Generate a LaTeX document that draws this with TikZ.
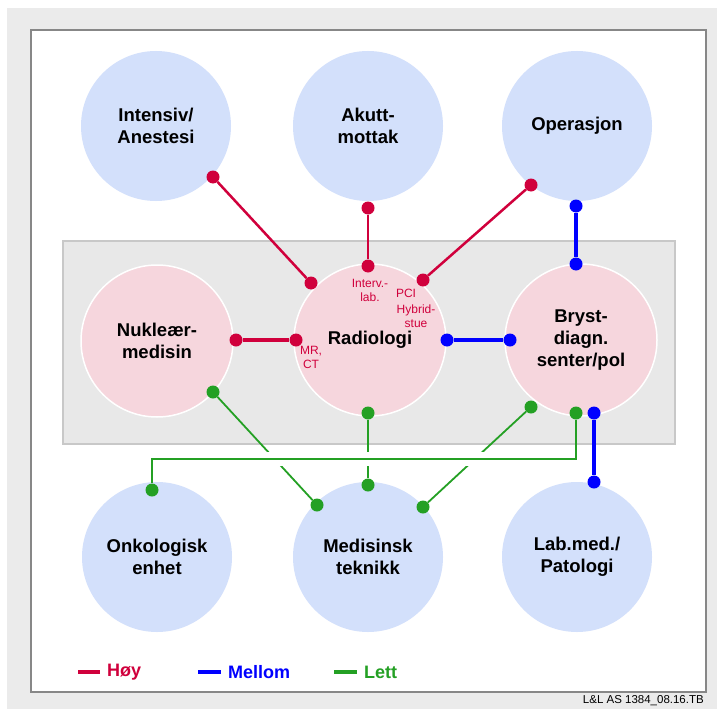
\documentclass[tikz,border=0pt]{standalone}
\usepackage{fontspec}
\setmainfont{Liberation Sans}
\definecolor{hoy}{RGB}{208,0,60}
\definecolor{mellom}{RGB}{0,0,255}
\definecolor{lett}{RGB}{36,160,36}
\definecolor{cblue}{RGB}{211,224,251}
\definecolor{cpink}{RGB}{246,214,221}
\definecolor{bggray}{RGB}{235,235,235}
\definecolor{midgray}{RGB}{232,232,232}
\definecolor{midedge}{RGB}{200,200,200}
\definecolor{boxedge}{RGB}{135,135,135}
\tikzset{
  circ/.style={circle, minimum size=150pt, inner sep=0pt, align=center,
    font=\fontsize{18.5}{22}\selectfont\bfseries},
  bluec/.style={circ, fill=cblue},
  pinkc/.style={circ, minimum size=152pt, fill=cpink, draw=white, line width=1.5pt},
  small/.style={align=center, inner sep=0pt, text=hoy, font=\fontsize{12}{14}\selectfont},
  dot/.style={circle, inner sep=0pt, minimum size=13pt},
  rdot/.style={dot, fill=hoy},
  bdot/.style={dot, fill=mellom},
  gdot/.style={dot, fill=lett},
  hoyline/.style={draw=hoy, line width=2.5pt},
  melline/.style={draw=mellom, line width=3.5pt},
  lettline/.style={draw=lett, line width=2.2pt},
  legline/.style={line width=4.5pt},
  legtext/.style={anchor=west, inner sep=0pt, font=\fontsize{18}{20}\selectfont\bfseries},
}
\begin{document}
\begin{tikzpicture}[x=1pt, y=-1pt]
\useasboundingbox (0,0) rectangle (717,709);
\fill[bggray] (7,8) rectangle (717,709);
\draw[boxedge, line width=2.5pt, fill=white] (31,30) rectangle (706,692);
\draw[midedge, line width=1.5pt, fill=midgray] (63,241) rectangle (675,444);

% circles
\node[bluec] (int) at (156,126) {Intensiv/\\Anestesi};
\node[bluec] (akm) at (368,126) {Akutt-\\mottak};
\node[bluec] (ops) at (577,126) {Operasjon};
\node[pinkc] (nuk) at (157,341) {Nukleær-\\medisin};
\node[pinkc] (rad) at (370,340) {\raisebox{-2pt}{Radiologi}};
\node[pinkc] (bry) at (581,340) {Bryst-\\diagn.\\senter/pol};
\node[bluec] (onk) at (157,557) {Onkologisk\\enhet};
\node[bluec] (med) at (368,557) {Medisinsk\\teknikk};
\node[bluec] (lab) at (577,557) {Lab.med./\\Patologi};

% small labels
\node[small] (iv) at (370,290) {Interv.-\\lab.};
\node[small] (pci) at (406,293) {PCI};
\node[small] (hyb) at (416,316) {Hybrid-\\stue};
\node[small] (mr) at (311,357) {MR,\\CT};

% dots
\node[rdot] (d1) at (213,177) {};
\node[rdot] (d2) at (311,283) {};
\node[rdot] (d3) at (368,208) {};
\node[rdot] (d4) at (368,266) {};
\node[rdot] (d5) at (531,185) {};
\node[rdot] (d6) at (423,280) {};
\node[rdot] (d7) at (236,340) {};
\node[rdot] (d8) at (296,340) {};
\node[bdot] (b1) at (576,206) {};
\node[bdot] (b2) at (576,264) {};
\node[bdot] (b3) at (447,340) {};
\node[bdot] (b4) at (510,340) {};
\node[bdot] (b5) at (594,413) {};
\node[bdot] (b6) at (594,482) {};
\node[gdot] (g1) at (213,392) {};
\node[gdot] (g2) at (317,505) {};
\node[gdot] (g3) at (368,413) {};
\node[gdot] (g4) at (368,485) {};
\node[gdot] (g5) at (531,407) {};
\node[gdot] (g6) at (423,507) {};
\node[gdot] (g7) at (576,413) {};
\node[gdot] (g8) at (152,490) {};
\coordinate (hl) at (152,459);

% connectors
\draw[hoyline] (d1) -- (d2);
\draw[hoyline] (d3) -- (d4);
\draw[hoyline] (d5) -- (d6);
\draw[hoyline, line width=3.5pt] (d7) -- (d8);
\draw[melline] (b1) -- (b2);
\draw[melline] (b3) -- (b4);
\draw[melline] (b5) -- (b6);
\draw[lettline, line width=1.8pt] (g1) -- (g2);
\draw[lettline] (g3) -- (g4);
\draw[lettline, line width=1.8pt] (g5) -- (g6);
\draw[white, line width=14pt] (g7 |- hl) -- (hl);
\draw[lettline] (g7) |- (hl) -- (g8);

% legend
\coordinate (l1a) at (78,672); \coordinate (l1b) at (100,672);
\coordinate (l2a) at (198,672); \coordinate (l2b) at (221,672);
\coordinate (l3a) at (334,672); \coordinate (l3b) at (357,672);
\draw[legline, hoy] (l1a) -- (l1b);
\draw[legline, mellom] (l2a) -- (l2b);
\draw[legline, lett] (l3a) -- (l3b);
\node[legtext, text=hoy] (lh) at (107,672) {Høy};
\node[legtext, text=mellom] (lm) at (228,672) {Mellom};
\node[legtext, text=lett] (ll) at (364,672) {Lett};

\node[anchor=east, inner sep=0pt, font=\fontsize{11.5}{12}\selectfont] (ft) at (704,701) {L\&L AS 1384\_08.16.TB};
\end{tikzpicture}
\end{document}
